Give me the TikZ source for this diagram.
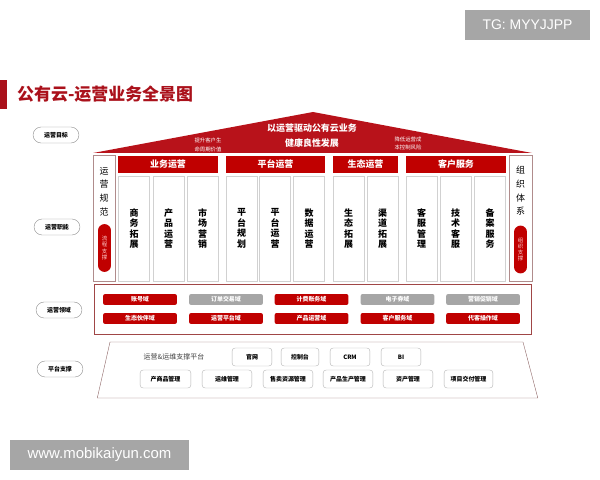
\documentclass[tikz,border=0pt]{standalone}
\usepackage{fontspec}
\usepackage{tikz}
\usetikzlibrary{positioning}
\newfontfamily\cjk{Noto Sans CJK SC}
\newfontfamily\wmfont{Liberation Sans}
\definecolor{titlered}{RGB}{170,17,27}
\definecolor{roofred}{RGB}{184,18,26}
\definecolor{hdred}{RGB}{192,0,0}
\definecolor{domgray}{RGB}{166,166,166}
\definecolor{wmgray}{RGB}{166,166,166}
\definecolor{sidegray}{RGB}{176,140,140}
\definecolor{framered}{RGB}{160,70,70}
\definecolor{platline}{RGB}{140,100,100}

\begin{document}
\begin{tikzpicture}[x=1bp,y=-1bp]
			\tikzstyle{lbl}=[draw=black!45, rounded corners=8pt, minimum width=46pt, minimum height=16pt, inner sep=0pt, font=\cjk\fontsize{6}{7}\selectfont\bfseries]
			\tikzstyle{hd}=[fill=hdred, minimum height=17pt, inner sep=0pt, text=white, font=\cjk\fontsize{9}{10}\selectfont\bfseries]
			\tikzstyle{col}=[draw=black!18, fill=white, minimum width=31pt, minimum height=105pt, inner sep=0pt, align=center, font=\cjk\fontsize{9}{10.5}\selectfont\bfseries]
			\tikzstyle{side}=[draw=sidegray, minimum width=22pt, minimum height=126pt, inner sep=0pt]
			\tikzstyle{sidetxt}=[align=center, inner sep=0pt, font=\cjk\fontsize{9}{13.7}\selectfont]
			\tikzstyle{vpill}=[fill=hdred, rounded corners=6.5pt, minimum width=13pt, minimum height=48pt, inner sep=0pt, text=white!80!red, align=center, font=\cjk\fontsize{5.5}{6.3}\selectfont]
			\tikzstyle{dom}=[rounded corners=2pt, minimum width=74pt, minimum height=11pt, inner sep=0pt, text=white, font=\cjk\fontsize{6}{7}\selectfont\bfseries]
			\tikzstyle{domr}=[dom, fill=hdred]
			\tikzstyle{domg}=[dom, fill=domgray]
			\tikzstyle{plat}=[draw=black!30, fill=white, rounded corners=3pt, minimum height=18pt, inner sep=0pt, font=\cjk\fontsize{6}{7}\selectfont\bfseries]
			\tikzstyle{rooftxt}=[text=white, inner sep=0pt, align=center]
			\tikzstyle{wm}=[fill=wmgray, text=white, inner sep=0pt, font=\wmfont\fontsize{14}{16}\selectfont]
			
			\useasboundingbox (0,0) rectangle (600,480);
			
			% title
			\node at (3.5,94.5) [fill=titlered, minimum width=7pt, minimum height=29pt, inner sep=0pt] (bar) {};
			\node at (17,94) [anchor=west, inner sep=0pt, text=titlered, font=\cjk\fontsize{17}{20}\selectfont\bfseries] (title) {公有云-运营业务全景图};
			
			% row labels
			\draw node at (56,135) [lbl] (goal) {运营目标};
			\draw node at (57,227) [lbl] (duty) {运营职能};
			\draw node at (59,310) [lbl] (field) {运营领域};
			\draw node at (60,369) [lbl] (base) {平台支撑};
			
			% roof
			\fill[roofred] (93,153) -- (313,112) -- (532,153) -- cycle;
			\draw node at (312,128) [rooftxt, font=\cjk\fontsize{9}{10}\selectfont\bfseries] (aim) {以运营驱动公有云业务};
			\draw node at (312,143) [rooftxt, font=\cjk\fontsize{9}{10}\selectfont\bfseries] (aim2) {健康良性发展};
			\draw node at (208,145) [rooftxt, font=\cjk\fontsize{5.4}{8.5}\selectfont] (aiml) {提升客户生\\命周期价值};
			\draw node at (408,143.5) [rooftxt, font=\cjk\fontsize{5.4}{8.5}\selectfont] (aimr) {降低运营成\\本控制风险};
			
			% side boxes
			\draw node at (104,218) [side] (norm) {};
			\draw node at (104,191.5) [sidetxt] (normt) {运\\营\\规\\范};
			\draw node at (104.5,248) [vpill] (normp) {流\\程\\支\\撑};
			\draw node at (520.5,218) [side, minimum width=23pt] (org) {};
			\draw node at (520.5,191) [sidetxt] (orgt) {组\\织\\体\\系};
			\draw node at (520.5,249.5) [vpill] (orgp) {组\\织\\支\\撑};
			
			% headers
			\draw node at (168,164.5) [hd, minimum width=100pt] (biz) {业务运营};
			\draw node at (275.5,164.5) [hd, minimum width=99pt] (pf) {平台运营};
			\draw node at (365.5,164.5) [hd, minimum width=65pt] (eco) {生态运营};
			\draw node at (456,164.5) [hd, minimum width=100pt] (cs) {客户服务};
			
			% columns
			\draw node at (134,228.5) [col] (biz1) {商\\务\\拓\\展};
			\draw node at (168.5,228.5) [col] (biz2) {产\\品\\运\\营};
			\draw node at (202.5,228.5) [col] (biz3) {市\\场\\营\\销};
			\draw node at (241.5,228.5) [col] (pf1) {平\\台\\规\\划};
			\draw node at (275,228.5) [col] (pf2) {平\\台\\运\\营};
			\draw node at (309,228.5) [col] (pf3) {数\\据\\运\\营};
			\draw node at (348.5,228.5) [col] (eco1) {生\\态\\拓\\展};
			\draw node at (382.5,228.5) [col] (eco2) {渠\\道\\拓\\展};
			\draw node at (421.5,228.5) [col] (cs1) {客\\服\\管\\理};
			\draw node at (455.5,228.5) [col] (cs2) {技\\术\\客\\服};
			\draw node at (490,228.5) [col] (cs3) {备\\案\\服\\务};
			
			% domains
			\draw node at (312.5,309) [draw=framered, minimum width=439pt, minimum height=50pt, inner sep=0pt] (dombox) {};
			\draw node at (140,299.5) [domr] (d1) {账号域};
			\draw node at (226,299.5) [domg] (d2) {订单交易域};
			\draw node at (311.5,299.5) [domr] (d3) {计费账务域};
			\draw node at (397.5,299.5) [domg] (d4) {电子券域};
			\draw node at (483,299.5) [domg] (d5) {营销促销域};
			\draw node at (140,318.5) [domr] (d6) {生态伙伴域};
			\draw node at (226,318.5) [domr] (d7) {运营平台域};
			\draw node at (311.5,318.5) [domr] (d8) {产品运营域};
			\draw node at (397.5,318.5) [domr] (d9) {客户服务域};
			\draw node at (483,318.5) [domr] (d10) {代客操作域};
			
			% platform
			\draw[platline] (97.3,398) -- (110,342) -- (523,342) -- (537.8,398) -- cycle;
			\draw node at (174,357) [inner sep=0pt, text=black!75, font=\cjk\fontsize{7}{8}\selectfont] (ops) {运营\&运维支撑平台};
			\draw node at (252,357) [plat, minimum width=40pt] (p1) {官网};
			\draw node at (300,357) [plat, minimum width=38pt] (p2) {控制台};
			\draw node at (350,357) [plat, minimum width=40pt] (p3) {CRM};
			\draw node at (401,357) [plat, minimum width=40pt] (p4) {BI};
			\draw node at (165.5,379) [plat, minimum width=51pt] (p5) {产商品管理};
			\draw node at (227,379) [plat, minimum width=50pt] (p6) {运维管理};
			\draw node at (288,379) [plat, minimum width=50pt] (p7) {售卖资源管理};
			\draw node at (348,379) [plat, minimum width=50pt] (p8) {产品生产管理};
			\draw node at (408,379) [plat, minimum width=50pt] (p9) {资产管理};
			\draw node at (468.5,379) [plat, minimum width=49pt] (p10) {项目交付管理};
			
			% watermarks
			\draw node at (527.5,25) [wm, minimum width=125pt, minimum height=30pt] (tg) {TG: MYYJJPP};
			\draw node at (99.5,455) [wm, minimum width=179pt, minimum height=30pt, font=\wmfont\fontsize{15}{17}\selectfont] (www) {www.mobikaiyun.com};
\end{tikzpicture}
\end{document}
